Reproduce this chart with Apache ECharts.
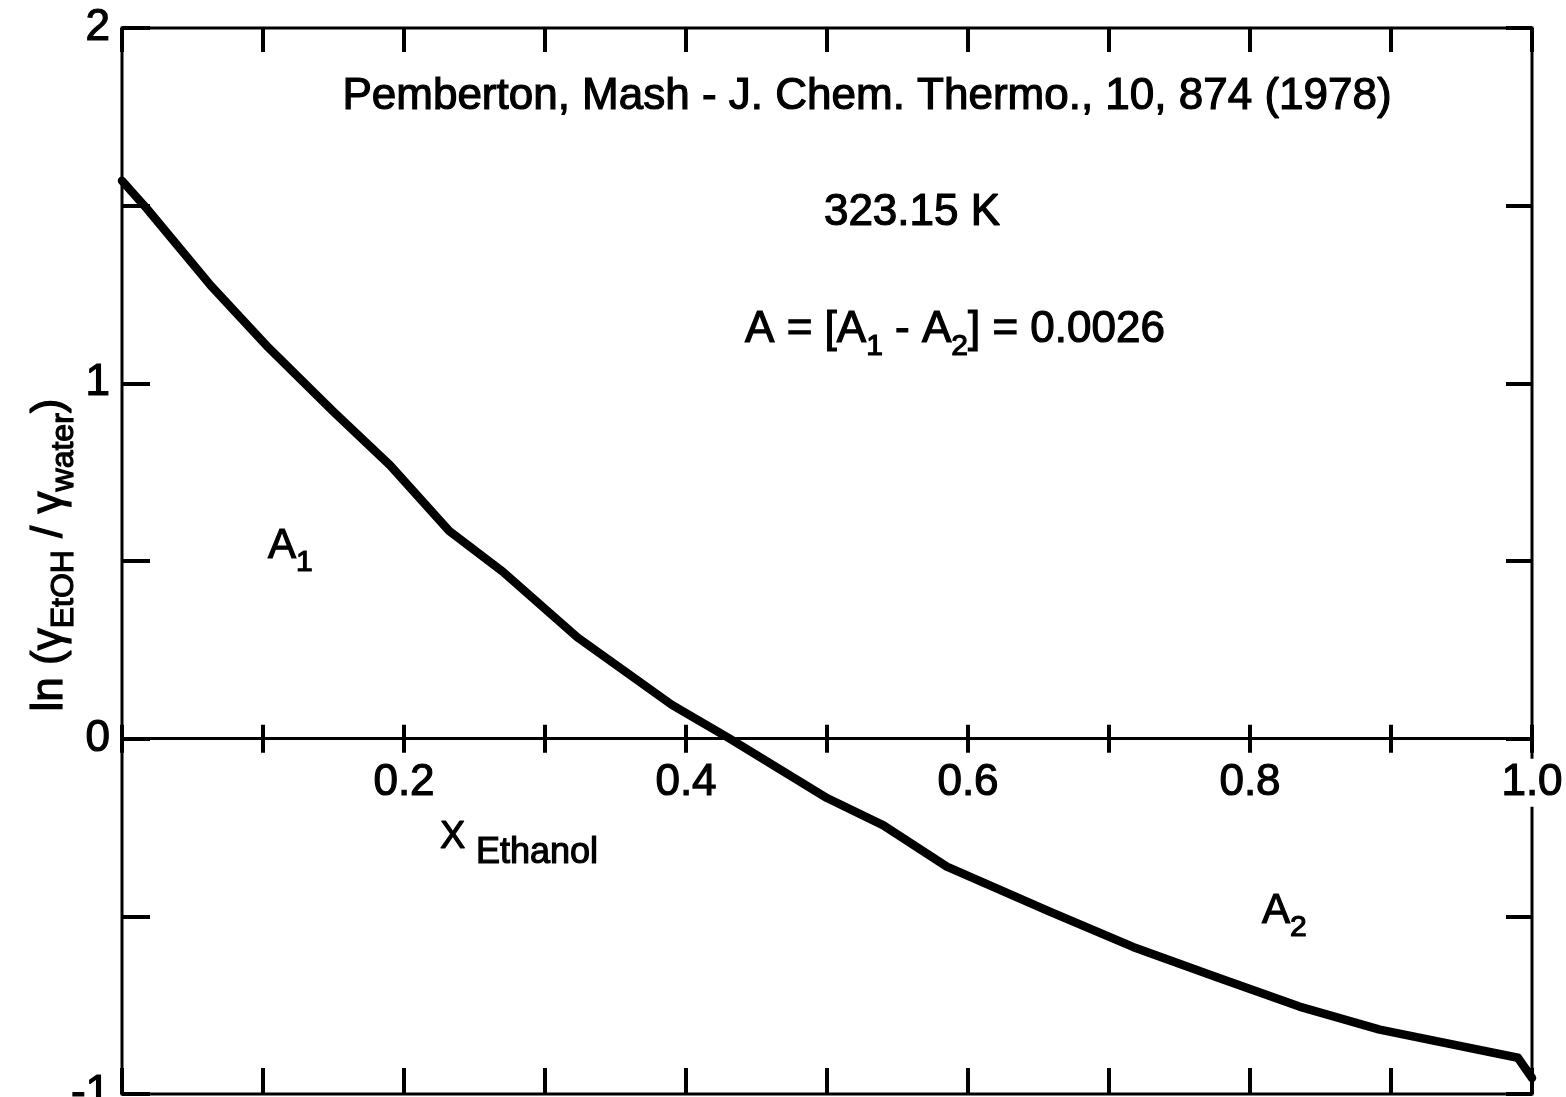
<!DOCTYPE html>
<html>
<head>
<meta charset="utf-8">
<title>ln(γEtOH/γwater) vs x Ethanol, 323.15 K</title>
<script src="https://cdn.jsdelivr.net/npm/echarts@6/dist/echarts.min.js"></script>
<style>
  html, body { margin: 0; padding: 0; background: #ffffff; }
  #chart { width: 1566px; height: 1097px; }
</style>
</head>
<body>
<div id="chart"></div>
<script>
// Mole fraction of ethanol and ln(gamma_EtOH / gamma_water), Pemberton & Mash, 323.15 K
const xEthanol = [0, 0.018, 0.063, 0.104, 0.150, 0.190, 0.232, 0.270, 0.323, 0.390, 0.431,
                  0.500, 0.540, 0.585, 0.658, 0.717, 0.776, 0.835, 0.892, 0.990, 1.000];
const lnGammaRatio = [1.57, 1.49, 1.275, 1.10, 0.92, 0.77, 0.585, 0.47, 0.285, 0.095, 0.0,
                      -0.167, -0.244, -0.36, -0.487, -0.586, -0.671, -0.754, -0.819, -0.898, -0.955];

// Labelled ticks
const xTickLabels = ['0.2', '0.4', '0.6', '0.8', '1.0'];
const yTickLabels = ['-1', '0', '1', '2'];

const FONT = "'Liberation Sans', Arial, sans-serif";
const INK = '#000000';
const INK_EDGE = 1.2;   // slight outline so the lettering reads as pen strokes

const curve = xEthanol.map((x, i) => [x, lnGammaRatio[i]]);

// Plot frame geometry and value ranges
const GRID = { left: 122, right: 34, top: 28, bottom: 3 };
const Y_MIN = -1, Y_MAX = 2;
const CHART_H = 1097;
const plotH = CHART_H - GRID.top - GRID.bottom;
// distance of the y = 0 line above the bottom edge of the frame
const zeroOffset = -plotH * (0 - Y_MIN) / (Y_MAX - Y_MIN);

const chart = echarts.init(document.getElementById('chart'), null, { renderer: 'canvas' });

const tickStyle = (len, inside) => ({
  show: true, inside: inside, length: len,
  lineStyle: { color: INK, width: 4 }
});

const baseX = {
  type: 'value', min: 0, max: 1, interval: 0.1,
  splitLine: { show: false }
};
const baseY = {
  type: 'value', min: Y_MIN, max: Y_MAX, interval: 0.5,
  splitLine: { show: false }
};

const textFont = (size) => ({
  fill: INK, fontFamily: FONT, fontSize: size,
  stroke: INK, lineWidth: INK_EDGE
});
const richFont = (size, lh, va) => {
  const r = { fill: INK, fontFamily: FONT, fontSize: size, lineHeight: lh,
              stroke: INK, lineWidth: INK_EDGE };
  if (va) r.verticalAlign = va;
  return r;
};

const option = {
  backgroundColor: '#ffffff',
  animation: false,
  grid: Object.assign({}, GRID, {
    outerBoundsMode: 'none', containLabel: false,
    show: true, borderColor: INK, borderWidth: 3, backgroundColor: 'transparent'
  }),
  xAxis: [
    // axis drawn along y = 0: line, ticks pointing down, labels beneath
    Object.assign({}, baseX, {
      position: 'bottom', offset: zeroOffset,
      axisLine: { show: true, onZero: false, lineStyle: { color: INK, width: 3 } },
      axisTick: tickStyle(14, false),
      axisLabel: {
        show: true, margin: 20,
        formatter: v => {
          const s = v.toFixed(1);
          return xTickLabels.indexOf(s) >= 0 ? '{t|' + s + '}' : '';
        },
        rich: {
          t: {
            color: INK, fontFamily: FONT, fontSize: 44,
            textBorderColor: INK, textBorderWidth: INK_EDGE,
            backgroundColor: '#ffffff', padding: [2, 2, 2, 2]
          }
        }
      },
      z: 5
    }),
    // upper half of the ticks crossing y = 0
    Object.assign({}, baseX, {
      position: 'bottom', offset: zeroOffset,
      axisLine: { show: false, onZero: false },
      axisTick: tickStyle(14, true),
      axisLabel: { show: false }
    }),
    // top frame ticks
    Object.assign({}, baseX, {
      position: 'top',
      axisLine: { show: false, onZero: false },
      axisTick: tickStyle(24, true),
      axisLabel: { show: false }
    }),
    // bottom frame ticks
    Object.assign({}, baseX, {
      position: 'bottom',
      axisLine: { show: false, onZero: false },
      axisTick: tickStyle(26, true),
      axisLabel: { show: false }
    })
  ],
  yAxis: [
    Object.assign({}, baseY, {
      position: 'left',
      axisLine: { show: false, onZero: false },
      axisTick: tickStyle(28, true),
      axisLabel: {
        show: true, margin: 12, color: INK, fontFamily: FONT, fontSize: 44,
        textBorderColor: INK, textBorderWidth: INK_EDGE,
        formatter: v => {
          const s = String(Math.round(v * 10) / 10);
          return yTickLabels.indexOf(s) >= 0 ? s : '';
        }
      }
    }),
    Object.assign({}, baseY, {
      position: 'right',
      axisLine: { show: false, onZero: false },
      axisTick: tickStyle(26, true),
      axisLabel: { show: false }
    })
  ],
  series: [{
    type: 'line',
    xAxisIndex: 0, yAxisIndex: 0,
    data: curve,
    showSymbol: false, symbol: 'none',
    smooth: false,
    lineStyle: { color: INK, width: 8.5, cap: 'round', join: 'round' },
    silent: true
  }],
  graphic: [
    {
      type: 'text', x: 867, y: 97,
      style: Object.assign(textFont(44), {
        text: 'Pemberton, Mash - J. Chem. Thermo., 10, 874 (1978)',
        align: 'center', verticalAlign: 'middle'
      })
    },
    {
      type: 'text', x: 912, y: 213,
      style: Object.assign(textFont(44), {
        text: '323.15 K',
        align: 'center', verticalAlign: 'middle'
      })
    },
    {
      type: 'text', x: 955, y: 330,
      style: {
        text: '{m|A = [A}{s|1}{m| - A}{s|2}{m|] = 0.0026}',
        align: 'center', verticalAlign: 'middle',
        rich: { m: richFont(44, 64), s: richFont(30, 30, 'bottom') }
      }
    },
    {
      type: 'text', x: 268, y: 546,
      style: {
        text: '{m|A}{s|1}',
        align: 'left', verticalAlign: 'middle',
        rich: { m: richFont(42, 64), s: richFont(30, 30, 'bottom') }
      }
    },
    {
      type: 'text', x: 1262, y: 911,
      style: {
        text: '{m|A}{s|2}',
        align: 'left', verticalAlign: 'middle',
        rich: { m: richFont(42, 64), s: richFont(30, 30, 'bottom') }
      }
    },
    {
      type: 'text', x: 440, y: 838,
      style: {
        text: '{m|X }{s|Ethanol}',
        align: 'left', verticalAlign: 'middle',
        rich: { m: richFont(38, 66), s: richFont(36, 36, 'bottom') }
      }
    },
    {
      type: 'text', x: 50, y: 555, rotation: Math.PI / 2,
      style: {
        text: '{m|ln (γ}{s|EtOH}{m| / γ}{s|water}{m|)}',
        align: 'center', verticalAlign: 'middle',
        rich: { m: richFont(44, 60), s: richFont(32, 32, 'bottom') }
      }
    }
  ]
};

chart.setOption(option);
</script>
</body>
</html>
